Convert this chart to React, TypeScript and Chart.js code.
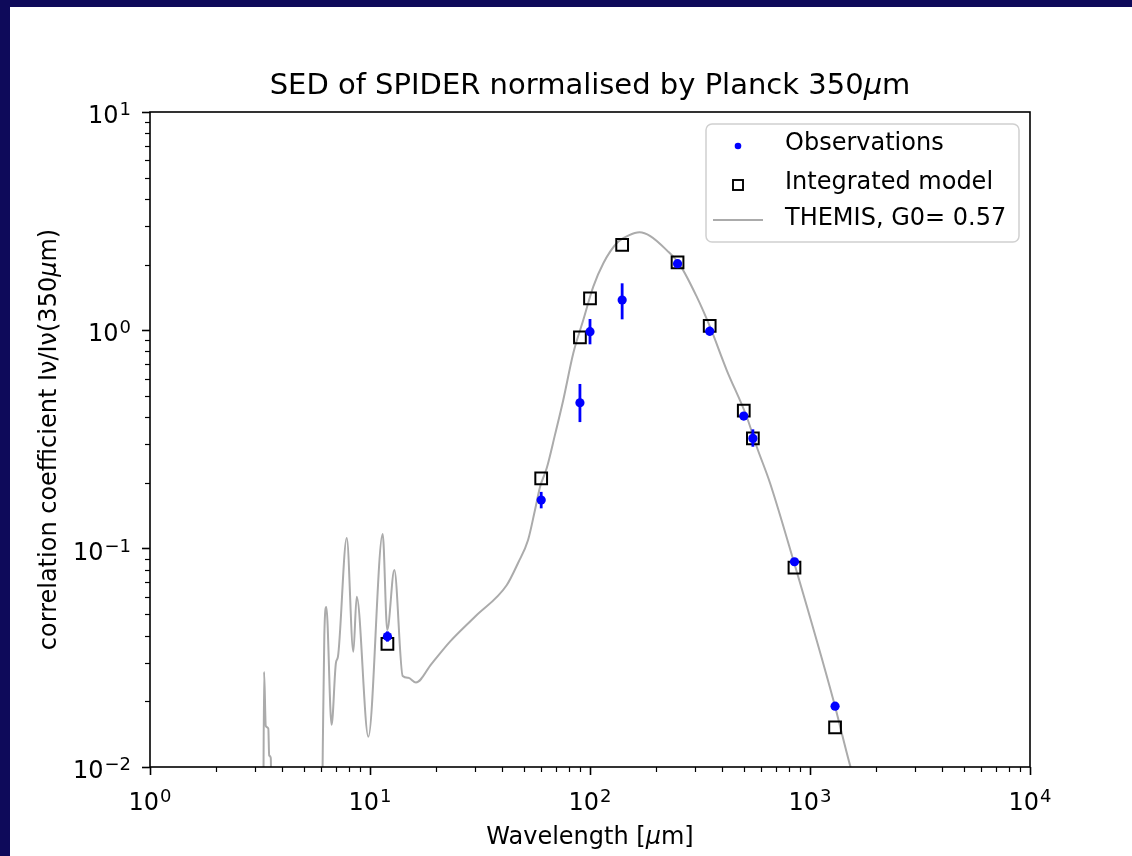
import React, { useEffect, useRef } from 'react';
import { Chart, registerables } from 'chart.js';

Chart.register(...registerables);

// ---- data ----
const obsWavelength = [12, 60, 90, 100, 140, 250, 350, 500, 550, 850, 1300];
const obsValue = [0.0396, 0.167, 0.466, 0.986, 1.377, 2.02, 0.99, 0.405, 0.32, 0.0871, 0.019];
const obsErrLow = [0.0375, 0.153, 0.38, 0.863, 1.123, 1.97, 0.95, 0.392, 0.293, 0.0845, 0.0186];
const obsErrHigh = [0.0418, 0.182, 0.568, 1.127, 1.642, 2.08, 1.04, 0.418, 0.352, 0.0898, 0.0194];

const modelWavelength = [12, 60, 90, 100, 140, 250, 350, 500, 550, 850, 1300];
const modelValue = [0.0366, 0.21, 0.929, 1.402, 2.46, 2.05, 1.047, 0.4285, 0.32, 0.0818, 0.0152];

const themisWavelength = [
  3.27, 3.3, 3.36, 3.45, 3.48, 3.54, 3.58, 4.5, 5.8, 6.0, 6.1, 6.2, 6.33, 6.69,
  7.0, 7.15, 7.84, 8.4, 8.7, 9.83, 11.42, 11.98, 12.9, 14.08, 14.93, 16.18, 19,
  23.1, 30, 41.8, 47.1, 52.3, 56.2, 59.3, 63.6, 69.3, 75.6, 84.0, 93.2, 103.5,
  115, 132.2, 150, 168, 188, 223, 256.6, 305.5, 351, 418, 515.6, 572.5, 658,
  839.6, 1276, 1520, 2000,
];
const themisValue = [
  0.004, 0.0273, 0.0154, 0.015, 0.0113, 0.011, 0.004, 0.002, 0.002, 0.003, 0.012,
  0.04, 0.0541, 0.0156, 0.03, 0.032, 0.112, 0.0337, 0.0602, 0.01376, 0.1167,
  0.0424, 0.0798, 0.0261, 0.0256, 0.0244, 0.0296, 0.0375, 0.0488, 0.068, 0.086,
  0.1096, 0.15, 0.192, 0.234, 0.332, 0.48, 0.787, 1.115, 1.585, 2.03, 2.505, 2.72,
  2.81, 2.7, 2.33, 1.99, 1.426, 1.039, 0.658, 0.402, 0.293, 0.2, 0.0887, 0.0203,
  0.0102, 0.004,
];

const xTickValues = [1, 10, 100, 1000, 10000];
const xTickExponents = ['0', '1', '2', '3', '4'];
const yTickValues = [0.01, 0.1, 1, 10];
const yTickExponents = ['−2', '−1', '0', '1'];
const tickBase = '10';

const seriesLabels = ['Observations', 'Integrated model', 'THEMIS, G0= 0.57'];
type Seg = { t: string; it?: boolean };
const titleSegments: Seg[] = [{ t: 'SED of SPIDER normalised by Planck 350' }, { t: 'μ', it: true }, { t: 'm' }];
const xTitleSegments: Seg[] = [{ t: 'Wavelength [' }, { t: 'μ', it: true }, { t: 'm]' }];
const yTitleSegments: Seg[] = [{ t: 'correlation coefficient Iν/Iν(350' }, { t: 'μ', it: true }, { t: 'm)' }];

const FONT = "'DejaVu Sans', sans-serif";
const OBS_COLOR = '#0000ff';
const LINE_COLOR = '#ababab';

function drawMixed(ctx: any, segs: Seg[], size: number, cx: number, cy: number, rot: number) {
  ctx.save();
  ctx.translate(cx, cy);
  ctx.rotate(rot);
  const fonts = segs.map((s) => `${s.it ? 'italic ' : ''}${size}px ${FONT}`);
  let total = 0;
  const widths = segs.map((s, i) => {
    ctx.font = fonts[i];
    const w = ctx.measureText(s.t).width;
    total += w;
    return w;
  });
  let x = -total / 2;
  ctx.textBaseline = 'middle';
  ctx.textAlign = 'left';
  ctx.fillStyle = '#000';
  segs.forEach((s, i) => {
    ctx.font = fonts[i];
    ctx.fillText(s.t, x, 0);
    x += widths[i];
  });
  ctx.restore();
}

function drawPower(ctx: any, exp: string, x: number, baseline: number, align: 'center' | 'right') {
  ctx.save();
  const baseFont = `24px ${FONT}`;
  const expFont = `18px ${FONT}`;
  ctx.font = baseFont;
  const wb = ctx.measureText(tickBase).width;
  ctx.font = expFont;
  const we = ctx.measureText(exp).width;
  const total = wb + we + 1;
  const left = align === 'center' ? x - total / 2 : x - total;
  ctx.textAlign = 'left';
  ctx.textBaseline = 'alphabetic';
  ctx.fillStyle = '#000';
  ctx.font = baseFont;
  ctx.fillText(tickBase, left, baseline);
  ctx.font = expFont;
  ctx.fillText(exp, left + wb + 1, baseline - 8);
  ctx.restore();
}

const errorBarPlugin = {
  id: 'errorBars',
  afterDatasetsDraw(chart: any) {
    const { ctx, chartArea, scales } = chart;
    const x = scales.x;
    const y = scales.y;
    ctx.save();
    ctx.beginPath();
    ctx.rect(chartArea.left, chartArea.top, chartArea.right - chartArea.left, chartArea.bottom - chartArea.top);
    ctx.clip();
    ctx.strokeStyle = OBS_COLOR;
    ctx.lineWidth = 2.8;
    obsWavelength.forEach((w, i) => {
      const px = x.getPixelForValue(w);
      ctx.beginPath();
      ctx.moveTo(px, y.getPixelForValue(obsErrLow[i]));
      ctx.lineTo(px, y.getPixelForValue(obsErrHigh[i]));
      ctx.stroke();
    });
    ctx.restore();
  },
};

const framePlugin = {
  id: 'frameTicks',
  afterDraw(chart: any) {
    const { ctx, chartArea, scales } = chart;
    const x = scales.x;
    const y = scales.y;
    ctx.save();
    ctx.strokeStyle = '#000';
    ctx.lineWidth = 1.2;
    for (let d = 1; d < 10000; d *= 10) {
      for (let k = 2; k <= 9; k++) {
        const px = Math.round(x.getPixelForValue(k * d)) + 0.5;
        ctx.beginPath();
        ctx.moveTo(px, chartArea.bottom);
        ctx.lineTo(px, chartArea.bottom + 5);
        ctx.stroke();
      }
    }
    for (let d = 0.01; d < 9; d *= 10) {
      for (let k = 2; k <= 9; k++) {
        const py = Math.round(y.getPixelForValue(k * d)) + 0.5;
        ctx.beginPath();
        ctx.moveTo(chartArea.left, py);
        ctx.lineTo(chartArea.left - 5, py);
        ctx.stroke();
      }
    }
    ctx.lineWidth = 1.6;
    ctx.strokeRect(chartArea.left, chartArea.top, chartArea.right - chartArea.left, chartArea.bottom - chartArea.top);

    // tick labels
    xTickValues.forEach((v, i) => {
      drawPower(ctx, xTickExponents[i], x.getPixelForValue(v), chartArea.bottom + 43, 'center');
    });
    yTickValues.forEach((v, i) => {
      drawPower(ctx, yTickExponents[i], chartArea.left - 19, y.getPixelForValue(v) + 11, 'right');
    });

    // titles
    const cx = (chartArea.left + chartArea.right) / 2;
    const cy = (chartArea.top + chartArea.bottom) / 2;
    drawMixed(ctx, titleSegments, 29, cx, 79, 0);
    drawMixed(ctx, xTitleSegments, 24, cx, 831, 0);
    drawMixed(ctx, yTitleSegments, 24, 40, cy, -Math.PI / 2);
    ctx.restore();
  },
};

const legendPlugin = {
  id: 'sedLegend',
  afterDraw(chart: any) {
    const { ctx, chartArea } = chart;
    const w = 313;
    const h = 118;
    const right = chartArea.right - 11;
    const top = chartArea.top + 12;
    const left = right - w;
    const r = 6;
    ctx.save();
    ctx.beginPath();
    ctx.moveTo(left + r, top);
    ctx.lineTo(left + w - r, top);
    ctx.arcTo(left + w, top, left + w, top + r, r);
    ctx.lineTo(left + w, top + h - r);
    ctx.arcTo(left + w, top + h, left + w - r, top + h, r);
    ctx.lineTo(left + r, top + h);
    ctx.arcTo(left, top + h, left, top + h - r, r);
    ctx.lineTo(left, top + r);
    ctx.arcTo(left, top, left + r, top, r);
    ctx.closePath();
    ctx.fillStyle = 'rgba(255,255,255,0.8)';
    ctx.fill();
    ctx.strokeStyle = '#d0d0d0';
    ctx.lineWidth = 1.5;
    ctx.stroke();

    const rows = [top + 20, top + 59, top + 95];
    const mx = left + 32;
    ctx.font = `24px ${FONT}`;
    ctx.textBaseline = 'middle';
    ctx.textAlign = 'left';
    chart.data.datasets.forEach((ds: any, i: number) => {
      const yy = rows[i];
      if (i === 0) {
        ctx.beginPath();
        ctx.arc(mx, yy + 2, 3.3, 0, Math.PI * 2);
        ctx.fillStyle = OBS_COLOR;
        ctx.fill();
      } else if (i === 1) {
        ctx.strokeStyle = '#000';
        ctx.lineWidth = 1.9;
        ctx.strokeRect(mx - 5, yy + 2 - 5, 10, 10);
      } else {
        ctx.strokeStyle = LINE_COLOR;
        ctx.lineWidth = 2;
        ctx.beginPath();
        ctx.moveTo(left + 7, yy + 1);
        ctx.lineTo(left + 57, yy + 1);
        ctx.stroke();
      }
      ctx.fillStyle = '#000';
      ctx.fillText(ds.label, left + 79, yy);
    });
    ctx.restore();
  },
};

export default function App() {
  const canvasRef = useRef<HTMLCanvasElement | null>(null);

  useEffect(() => {
    if (!canvasRef.current) return;
    Chart.defaults.font.family = FONT;
    const chart = new Chart(canvasRef.current, {
      type: 'scatter',
      data: {
        datasets: [
          {
            label: seriesLabels[0],
            data: obsWavelength.map((w, i) => ({ x: w, y: obsValue[i] })),
            pointStyle: 'circle',
            pointRadius: 4.6,
            pointBackgroundColor: OBS_COLOR,
            pointBorderColor: OBS_COLOR,
            pointBorderWidth: 0,
            showLine: false,
            order: 1,
          },
          {
            label: seriesLabels[1],
            data: modelWavelength.map((w, i) => ({ x: w, y: modelValue[i] })),
            pointStyle: 'rect',
            pointRadius: 8.3,
            pointBackgroundColor: 'rgba(0,0,0,0)',
            pointBorderColor: '#000',
            pointBorderWidth: 2,
            showLine: false,
            order: 2,
          },
          {
            label: seriesLabels[2],
            data: themisWavelength.map((w, i) => ({ x: w, y: themisValue[i] })),
            showLine: true,
            borderColor: LINE_COLOR,
            borderWidth: 2,
            pointRadius: 0,
            fill: false,
            cubicInterpolationMode: 'monotone',
            order: 3,
          },
        ],
      },
      options: {
        responsive: false,
        animation: false,
        events: [],
        layout: { padding: { left: 0, right: 102, top: 105, bottom: 0 } },
        plugins: {
          legend: { display: false },
          tooltip: { enabled: false },
          title: { display: false },
        },
        scales: {
          x: {
            type: 'logarithmic',
            min: 1,
            max: 10000,
            afterBuildTicks: (s: any) => {
              s.ticks = xTickValues.map((v) => ({ value: v }));
            },
            afterFit: (s: any) => {
              s.height = 89;
            },
            ticks: { display: false, autoSkip: false, maxRotation: 0 },
            grid: {
              display: true,
              drawOnChartArea: false,
              drawTicks: true,
              tickLength: 8,
              tickColor: '#000',
              tickWidth: 1.6,
            },
            border: { display: false },
            title: { display: false },
          },
          y: {
            type: 'logarithmic',
            min: 0.01,
            max: 10,
            afterBuildTicks: (s: any) => {
              s.ticks = yTickValues.map((v) => ({ value: v }));
            },
            afterFit: (s: any) => {
              s.width = 140;
            },
            ticks: { display: false, autoSkip: false },
            grid: {
              display: true,
              drawOnChartArea: false,
              drawTicks: true,
              tickLength: 8,
              tickColor: '#000',
              tickWidth: 1.6,
            },
            border: { display: false },
            title: { display: false },
          },
        },
      },
      plugins: [errorBarPlugin, framePlugin, legendPlugin],
    } as any);
    return () => chart.destroy();
  }, []);

  return (
    <div style={{ position: 'absolute', left: 0, top: 0, width: 1132, height: 856, background: '#0e0a5a', overflow: 'hidden' }}>
      <div style={{ position: 'absolute', left: 10, top: 7, width: 1122, height: 849, background: '#ffffff' }}>
        <canvas ref={canvasRef} width={1122} height={849} style={{ display: 'block', width: 1122, height: 849 }} />
      </div>
    </div>
  );
}
